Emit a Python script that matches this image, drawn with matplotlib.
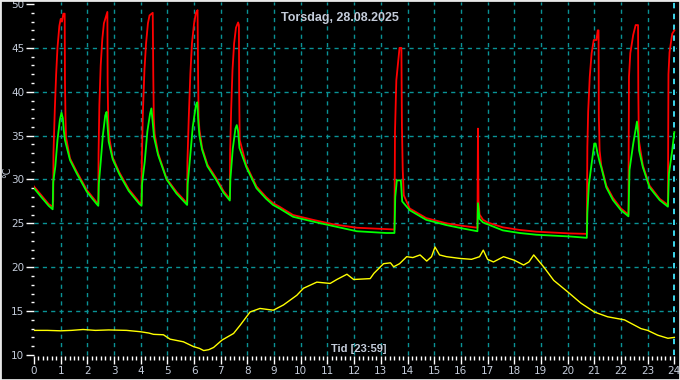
import matplotlib
matplotlib.use('Agg')
import matplotlib.pyplot as plt
from matplotlib.patches import Rectangle
import numpy as np

# red series (hours, degC)
red_t = [0, 0.3, 0.55, 0.70, 0.72, 0.73, 0.78, 0.83, 0.88, 0.95, 1.0, 1.05, 1.1, 1.15, 1.16, 1.18, 1.2,
         1.35, 1.6, 1.98, 2.35, 2.41,
         2.42, 2.45, 2.5, 2.56, 2.62, 2.7, 2.75, 2.76, 2.78, 2.82,
         2.95, 3.2, 3.55, 3.95, 4.03,
         4.04, 4.08, 4.14, 4.2, 4.27, 4.33, 4.45, 4.47, 4.49, 4.52,
         4.65, 4.97, 5.34, 5.74,
         5.75, 5.8, 5.86, 5.92, 6.0, 6.07, 6.13, 6.15, 6.17, 6.2,
         6.3, 6.5, 6.84, 7.1, 7.34,
         7.35, 7.39, 7.44, 7.5, 7.57, 7.65, 7.68, 7.69, 7.71,
         7.96, 8.34, 8.7, 8.96, 9.2, 9.71, 10.46, 11.2, 12.1, 13.2, 13.51,
         13.53, 13.58, 13.65, 13.7, 13.77, 13.79, 13.82, 13.86,
         14.08, 14.7, 15.46, 16.1, 16.62,
         16.64, 16.66, 16.7, 16.83, 17.0, 17.57, 18.2, 18.83, 19.45, 20.1, 20.72,
         20.74, 20.77, 20.83, 20.9, 20.98, 21.08, 21.13, 21.16, 21.17, 21.2,
         21.26, 21.45, 21.7, 22.0, 22.28,
         22.3, 22.35, 22.46, 22.55, 22.64, 22.65, 22.67,
         22.82, 23.07, 23.45, 23.76,
         23.78, 23.82, 23.92, 24.0]
red_v = [29.2, 28.1, 27.2, 26.9, 27.5, 33.0, 38.0, 42.0, 45.0, 47.5, 48.3, 48.0, 48.9, 48.9, 41.3, 37.1, 34.8,
         32.4, 30.9, 28.8, 27.4, 27.2,
         33.0, 38.5, 43.0, 46.0, 47.8, 48.6, 49.1, 41.0, 37.0, 34.8,
         32.5, 30.8, 28.9, 27.4, 27.2,
         32.0, 37.5, 42.5, 45.5, 47.8, 48.7, 49.0, 42.0, 37.0, 35.2,
         33.0, 30.1, 28.6, 27.3,
         32.0, 37.0, 42.0, 45.5, 47.8, 49.0, 49.3, 42.0, 37.0, 35.7,
         33.6, 31.7, 30.1, 28.7, 27.8,
         33.0, 38.0, 42.5, 45.5, 47.3, 47.9, 47.6, 40.0, 34.5,
         31.6, 29.2, 28.0, 27.3, 26.9, 25.95, 25.4, 24.9, 24.5, 24.35, 24.3,
         35.4, 41.3, 43.5, 45.0, 45.0, 36.0, 31.1, 28.2,
         26.7, 25.6, 25.0, 24.7, 24.5,
         35.8, 27.6, 26.0, 25.4, 25.1, 24.55, 24.25, 24.05, 23.95, 23.85, 23.8,
         33.7, 37.7, 41.7, 44.4, 45.9, 45.9, 47.0, 47.0, 37.2, 33.3,
         31.6, 29.3, 27.9, 26.7, 26.0,
         41.7, 44.4, 46.5, 47.6, 47.6, 40.0, 34.5,
         31.6, 29.3, 27.8, 27.1,
         42.0, 44.5, 46.6, 47.0]

# green series
green_t = [0, 0.3, 0.55, 0.70, 0.72, 0.8, 0.88, 0.97, 1.03, 1.08, 1.12, 1.16,
           1.35, 1.6, 1.98, 2.35, 2.41,
           2.43, 2.5, 2.58, 2.67, 2.72, 2.76, 2.8,
           2.95, 3.2, 3.55, 3.95, 4.03,
           4.05, 4.15, 4.25, 4.35, 4.4, 4.45, 4.5,
           4.65, 4.97, 5.34, 5.74,
           5.76, 5.85, 5.95, 6.07, 6.12, 6.16, 6.2,
           6.3, 6.5, 6.84, 7.1, 7.34,
           7.36, 7.45, 7.55, 7.6, 7.65, 7.7,
           7.96, 8.34, 8.7, 8.96, 9.2, 9.71, 10.46, 11.2, 12.1, 13.2, 13.51,
           13.54, 13.6, 13.75, 13.8,
           14.08, 14.7, 15.46, 16.1, 16.62,
           16.64, 16.7, 16.83, 17.57, 18.2, 18.83, 19.45, 20.1, 20.72,
           20.74, 20.8, 20.9, 21.0, 21.05, 21.12, 21.2,
           21.26, 21.45, 21.7, 22.0, 22.28,
           22.32, 22.46, 22.6, 22.65, 22.68,
           22.82, 23.07, 23.45, 23.76,
           23.8, 23.92, 24.0]
green_v = [29.0, 27.9, 27.0, 26.6, 29.7, 31.5, 34.5, 36.8, 37.6, 37.0, 35.5, 34.5,
           32.2, 30.7, 28.6, 27.2, 27.0,
           29.5, 32.0, 35.0, 37.3, 37.7, 36.0, 34.3,
           32.3, 30.6, 28.7, 27.2, 27.0,
           29.5, 32.0, 35.5, 37.5, 38.1, 36.5, 34.8,
           32.8, 30.0, 28.4, 27.1,
           29.5, 32.5, 36.0, 38.5, 38.8, 36.5, 35.0,
           33.4, 31.5, 29.9, 28.5, 27.6,
           30.0, 33.5, 35.8, 36.2, 35.5, 33.6,
           31.4, 29.0, 27.8, 27.1, 26.7, 25.75, 25.2, 24.7, 24.1, 23.9, 23.9,
           28.0, 29.9, 29.9, 27.5,
           26.5, 25.4, 24.8, 24.4, 24.1,
           27.3, 25.5, 25.1, 24.2, 23.9, 23.7, 23.6, 23.5, 23.35,
           26.2, 29.5, 31.8, 34.1, 34.1, 33.0, 32.0,
           31.4, 29.1, 27.65, 26.5, 25.8,
           31.1, 34.1, 36.6, 35.0, 33.3,
           31.4, 29.1, 27.65, 26.9,
           30.7, 33.3, 35.4]

# yellow series
yellow_t = [0, 0.5, 1.0, 1.4, 1.84, 2.3, 2.8, 3.47, 3.98, 4.3, 4.48, 4.85, 5.1, 5.6, 5.98, 6.2,
            6.36, 6.55, 6.73, 7.05, 7.48, 7.73, 8.1, 8.47, 8.97, 9.35, 9.85, 10.1, 10.6, 11.1,
            11.35, 11.73, 11.98, 12.6, 12.74, 13.1, 13.36, 13.48, 13.7, 13.97, 14.2, 14.47,
            14.72, 14.9, 15.03, 15.2, 15.46, 15.97, 16.4, 16.7, 16.84, 17.0, 17.22, 17.6, 18.0,
            18.35, 18.55, 18.73, 19.1, 19.48, 20.0, 20.5, 21.0, 21.5, 22.13, 22.75, 23.0,
            23.38, 23.76, 24.0]
yellow_v = [12.8, 12.8, 12.75, 12.8, 12.9, 12.8, 12.85, 12.8, 12.65, 12.5, 12.35, 12.3, 11.8,
            11.5, 10.95, 10.75, 10.5, 10.6, 10.85, 11.7, 12.45, 13.4, 14.9, 15.3, 15.1, 15.7,
            16.8, 17.6, 18.3, 18.15, 18.6, 19.2, 18.6, 18.7, 19.3, 20.4, 20.5, 20.05, 20.4,
            21.2, 21.1, 21.4, 20.7, 21.2, 22.3, 21.4, 21.2, 21.0, 20.9, 21.2, 21.95, 20.9,
            20.6, 21.2, 20.8, 20.25, 20.6, 21.4, 20.05, 18.5, 17.2, 15.9, 14.9, 14.35, 14.0,
            13.0, 12.8, 12.25, 11.9, 12.0]

title = 'Torsdag, 28.08.2025'
now_label = 'Tid [23:59]'
now_hour = 23 + 59 / 60.0

txtcol = '#c4ccda'
gridcol = '#0a9296'

fig = plt.figure(figsize=(6.8, 3.8), dpi=100, facecolor='black')
ax = fig.add_axes([34 / 680, 1 - 356 / 380, 643 / 680, 354 / 380])
ax.set_facecolor('black')
for s in ax.spines.values():
    s.set_visible(False)

ax.set_xlim(0, 24.1)
ax.set_ylim(9.88, 50.23)

ax.hlines(np.arange(15, 50, 5), 0, 24.1, colors=gridcol, linestyles=(0, (3, 3)), lw=1)
ax.vlines(np.arange(1, 24), 10, 50.23, colors=gridcol, linestyles=(0, (3, 3)), lw=1)
ax.vlines(now_hour, 10, 50.23, colors='#40e8ff', linestyles=(0, (3, 3)), lw=1.3)

ax.plot(yellow_t, yellow_v, color='#ffff00', lw=1.0)
ax.plot(red_t, red_v, color='#ff0000', lw=1.3)
ax.plot(green_t, green_v, color='#00ff00', lw=1.3)

ax.set_xticks(np.arange(0, 25, 1))
ax.set_xticks(np.arange(0, 24.01, 1 / 6.0), minor=True)
ax.set_yticks(np.arange(10, 51, 5))
ax.set_yticks(np.arange(10, 51, 1), minor=True)
ax.tick_params(axis='x', which='major', direction='out', length=6, width=1, colors='white',
               labelcolor=txtcol, labelsize=7.5, pad=1)
ax.tick_params(axis='x', which='minor', direction='out', length=3, width=1, colors='white')
ax.tick_params(axis='y', which='major', direction='out', length=6, width=1, colors='white',
               labelcolor=txtcol, labelsize=7.5, pad=1)
ax.tick_params(axis='y', which='minor', direction='out', length=2.5, width=1, colors='white')

ax.text(0.5, 0.953, title, transform=fig.transFigure, ha='center', va='center',
        color=txtcol, fontsize=9, fontweight='bold', family='Liberation Sans')
ax.text(359 / 680, 1 - 349 / 380, now_label, transform=fig.transFigure, ha='center', va='center',
        color=txtcol, fontsize=8, fontweight='bold', family='Liberation Sans')
fig.text(7 / 680, 1 - 172 / 380, '°C', rotation=90, ha='center', va='center',
         color=txtcol, fontsize=7)

fig.patches.append(Rectangle((0, 0), 1, 1, transform=fig.transFigure, fill=False,
                             edgecolor='#e8e8e8', lw=2))

fig.savefig('out.png', dpi=100, facecolor='black')
